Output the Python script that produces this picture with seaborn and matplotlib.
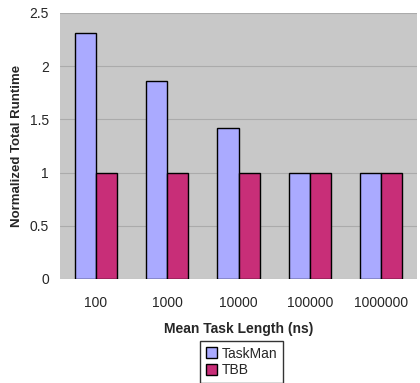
import matplotlib
matplotlib.use("Agg")
import matplotlib.pyplot as plt
import seaborn as sns
import pandas as pd
from matplotlib.patches import Patch

categories = ["100", "1000", "10000", "100000", "1000000"]
taskman = [2.31, 1.86, 1.42, 1.0, 1.0]
tbb = [1.0, 1.0, 1.0, 1.0, 1.0]
series = ["TaskMan", "TBB"]
colors = ["#AAAAFF", "#C82E78"]

df = pd.DataFrame({
    "cat": categories * 2,
    "val": taskman + tbb,
    "series": ["TaskMan"] * len(categories) + ["TBB"] * len(categories),
})

sns.set_style("white")
plt.rcParams["font.family"] = ["Liberation Sans", "DejaVu Sans"]

fig = plt.figure(figsize=(4.2, 3.83), dpi=100)
ax = fig.add_axes([60/420, 1-279/383, 357/420, 266/383])
ax.set_facecolor("#C8C8C8")
sns.barplot(data=df, x="cat", y="val", hue="series", palette=colors,
            width=0.59, edgecolor="black", linewidth=1.0, ax=ax,
            legend=False, saturation=1)
ax.set_ylim(0, 2.5)
ax.set_yticks([0, 0.5, 1, 1.5, 2, 2.5])
ax.set_yticklabels(["0", "0.5", "1", "1.5", "2", "2.5"])
ax.yaxis.grid(True, color="#ABABAB", linewidth=0.8)
ax.set_axisbelow(True)
for s in ax.spines.values():
    s.set_visible(False)
ax.tick_params(axis="y", length=0, labelsize=10, pad=8)
ax.tick_params(axis="x", length=0, labelsize=10, pad=12)
ax.set_xlabel("Mean Task Length (ns)", fontsize=10, fontweight="bold", labelpad=9)
ax.set_ylabel("Normalized Total Runtime", fontsize=9.5, fontweight="bold", labelpad=5)

handles = [Patch(facecolor=c, edgecolor="black", label=s) for s, c in zip(series, colors)]
fig.legend(handles=handles, loc="upper left", bbox_to_anchor=(200/420, 1-341/383),
           borderaxespad=0, frameon=True, fancybox=False, edgecolor="black",
           fontsize=10, handlelength=0.8, handleheight=0.8, handletextpad=0.4,
           borderpad=0.4, labelspacing=0.2)

fig.savefig("out.png", dpi=100)
